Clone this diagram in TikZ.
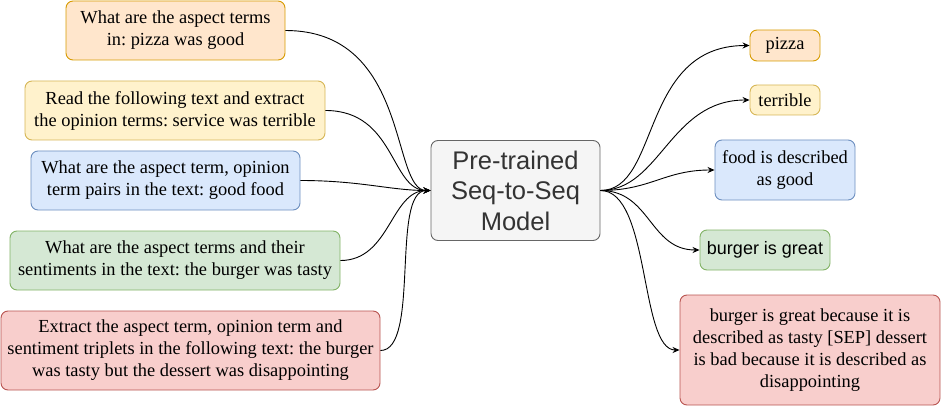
\documentclass[tikz,border=0pt]{standalone}
\usepackage{fontspec}
\setmainfont{Liberation Serif}
\setsansfont{Liberation Sans}
\usetikzlibrary{arrows.meta}
\frenchspacing

\definecolor{orfill}{HTML}{FFE6CC}\definecolor{ordraw}{HTML}{D79B00}
\definecolor{yefill}{HTML}{FFF2CC}\definecolor{yedraw}{HTML}{D6B656}
\definecolor{blfill}{HTML}{DAE8FC}\definecolor{bldraw}{HTML}{6C8EBF}
\definecolor{grfill}{HTML}{D5E8D4}\definecolor{grdraw}{HTML}{82B366}
\definecolor{refill}{HTML}{F8CECC}\definecolor{redraw}{HTML}{B85450}
\definecolor{mofill}{HTML}{F5F5F5}\definecolor{modraw}{HTML}{666666}
\definecolor{motext}{HTML}{333333}

\begin{document}
\begin{tikzpicture}[
  x=1pt, y=-1pt,
  font=\fontsize{18.4}{22}\selectfont,
  box/.style={rectangle, rounded corners=7pt, line width=0.9pt, align=center, inner sep=0pt},
  orbox/.style={box, fill=orfill, draw=ordraw},
  yebox/.style={box, fill=yefill, draw=yedraw},
  blbox/.style={box, fill=blfill, draw=bldraw},
  grbox/.style={box, fill=grfill, draw=grdraw},
  rebox/.style={box, fill=refill, draw=redraw},
  ar/.style={-{Stealth[length=7pt,width=6pt]}, line width=0.9pt}
]
\useasboundingbox (0,0) rectangle (941,406);

% prompts
\node[orbox, minimum width=219, minimum height=59] (q1) at (175.5, 30.5)  {What are the aspect terms\\in: pizza was good};
\node[yebox, minimum width=300, minimum height=59] (q2) at (175, 110.5)   {Read the following text and extract\\the opinion terms: service was terrible};
\node[blbox, minimum width=269, minimum height=59] (q3) at (165.5, 180.5) {What are the aspect term, opinion\\term pairs in the text: good food};
\node[grbox, minimum width=330, minimum height=59] (q4) at (175, 260.5)   {What are the aspect terms and their\\sentiments in the text: the burger was tasty};
\node[rebox, minimum width=379, minimum height=79] (q5) at (190.5, 350.5) {Extract the aspect term, opinion term and\\sentiment triplets in the following text: the burger\\was tasty but the dessert was disappointing};

% model
\node[box, fill=mofill, draw=modraw, text=motext, minimum width=169, minimum height=100,
      font=\sffamily\fontsize{25.5}{30.5}\selectfont] (model) at (515.5, 190.5) {Pre-trained\\Seq-to-Seq\\Model};

% outputs
\node[orbox, minimum width=70, minimum height=31]  (a1) at (785, 45.5) {pizza};
\node[yebox, minimum width=70, minimum height=30]  (a2) at (785, 100)  {terrible};
\node[blbox, minimum width=140, minimum height=60] (a3) at (785, 170)  {food is described\\as good};
\node[grbox, minimum width=130, minimum height=40, font=\sffamily\fontsize{18}{21.6}\selectfont] (a4) at (765, 250) {burger is great};
\node[rebox, minimum width=260, minimum height=110] (a5) at (810, 350) {burger is great because it is\\described as tasty [SEP] dessert\\is bad because it is described as\\disappointing};

\draw[ar] (q1.east) .. controls +(125,0) and +(-40,0) .. (model.west);
\draw[ar] (q2.east) .. controls +(70,0) and +(-40,0) .. (model.west);
\draw[ar] (q3.east) .. controls +(60,0) and +(-40,0) .. (model.west);
\draw[ar] (q4.east) .. controls +(50,0) and +(-40,0) .. (model.west);
\draw[ar] (q5.east) .. controls +(40,0) and +(-40,0) .. (model.west);

\draw[ar] (model.east) .. controls +(60,0) and +(-110,0) .. (a1.west);
\draw[ar] (model.east) .. controls +(60,0) and +(-80,0) .. (a2.west);
\draw[ar] (model.east) .. controls +(50,0) and +(-50,0) .. (a3.west);
\draw[ar] (model.east) .. controls +(50,0) and +(-50,0) .. (a4.west);
\draw[ar] (model.east) .. controls +(50,0) and +(-40,0) .. (a5.west);
\end{tikzpicture}
\end{document}
